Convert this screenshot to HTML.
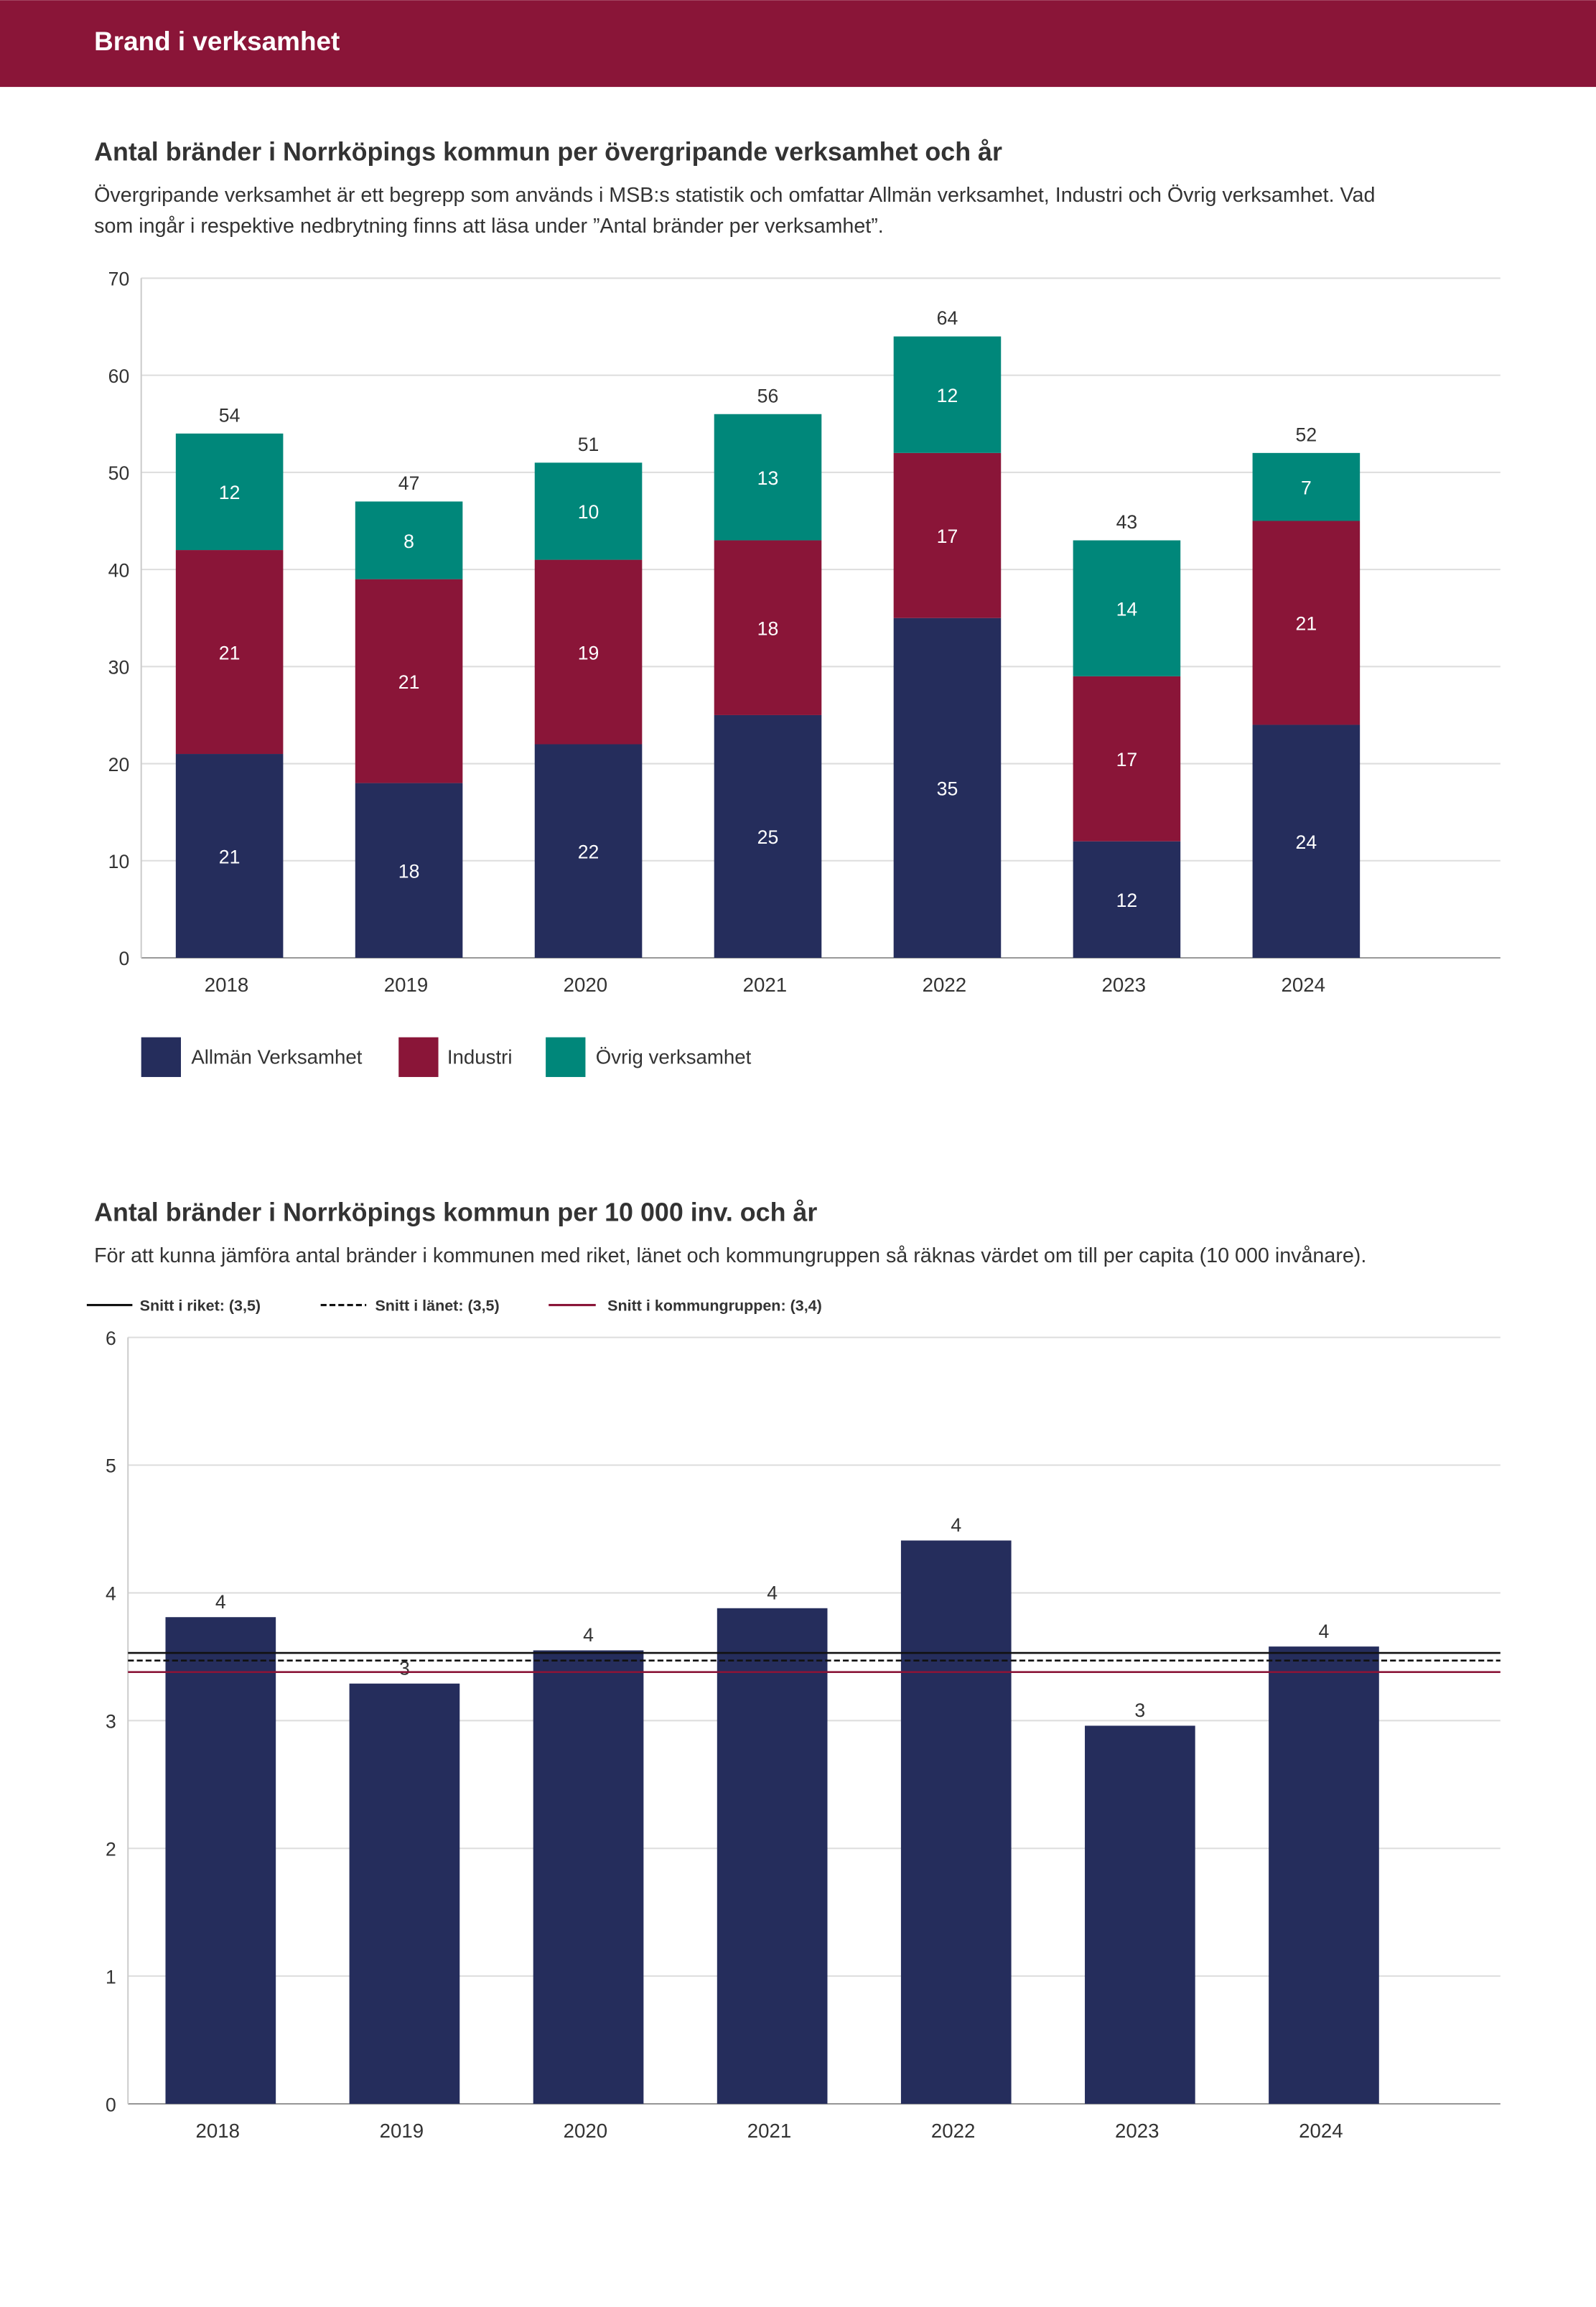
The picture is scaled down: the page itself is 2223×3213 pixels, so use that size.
<!DOCTYPE html>
<html><head><meta charset="utf-8"><style>
html,body{margin:0;padding:0;background:#fff;}
svg{display:block;font-family:"Liberation Sans",sans-serif;}
</style></head><body>
<svg id="s" width="2223" height="3213" viewBox="0 0 1085 1568" xmlns="http://www.w3.org/2000/svg">
<rect x="0" y="0" width="1085" height="59" fill="#8a1538"/>
<text x="64" y="34" fill="#fff" font-size="18" font-weight="bold">Brand i verksamhet</text>
<text x="64" y="109" fill="#333" font-size="17.5" font-weight="bold">Antal bränder i Norrköpings kommun per övergripande verksamhet och år</text>
<text x="64" y="137" fill="#333" font-size="14">Övergripande verksamhet är ett begrepp som används i MSB:s statistik och omfattar Allmän verksamhet, Industri och Övrig verksamhet. Vad</text>
<text x="64" y="158" fill="#333" font-size="14">som ingår i respektive nedbrytning finns att läsa under ”Antal bränder per verksamhet”.</text>
<g id="c1"></g>
<g>
<rect x="96" y="705" width="27" height="27" fill="#252d5c"/>
<text x="130" y="723" font-size="13.5" fill="#333">Allmän Verksamhet</text>
<rect x="271" y="705" width="27" height="27" fill="#8a1538"/>
<text x="304" y="723" font-size="13.5" fill="#333">Industri</text>
<rect x="371" y="705" width="27" height="27" fill="#00877a"/>
<text x="405" y="723" font-size="13.5" fill="#333">Övrig verksamhet</text>
</g>
<text x="64" y="830" fill="#333" font-size="17.5" font-weight="bold">Antal bränder i Norrköpings kommun per 10 000 inv. och år</text>
<text x="64" y="858" fill="#333" font-size="14">För att kunna jämföra antal bränder i kommunen med riket, länet och kommungruppen så räknas värdet om till per capita (10 000 invånare).</text>
<g>
<line x1="59" y1="887" x2="90" y2="887" stroke="#111" stroke-width="1.5"/>
<text x="95" y="891" font-size="10.5" font-weight="bold" fill="#333">Snitt i riket: (3,5)</text>
<line x1="218" y1="887" x2="249" y2="887" stroke="#111" stroke-width="1.5" stroke-dasharray="4,2"/>
<text x="255" y="891" font-size="10.5" font-weight="bold" fill="#333">Snitt i länet: (3,5)</text>
<line x1="373" y1="887" x2="405" y2="887" stroke="#8a1538" stroke-width="1.5"/>
<text x="413" y="891" font-size="10.5" font-weight="bold" fill="#333">Snitt i kommungruppen: (3,4)</text>
</g>
<g id="c2"></g>
</svg>
<script>
const years=["2018","2019","2020","2021","2022","2023","2024"];
const allman=[21,18,22,25,35,12,24];
const industri=[21,21,19,18,17,17,21];
const ovrig=[12,8,10,13,12,14,7];
const ticks1=[0,10,20,30,40,50,60,70];
const perCapita=[3.81,3.29,3.55,3.88,4.41,2.96,3.58];
const perCapitaLabels=["4","3","4","4","4","3","4"];
const ticks2=[0,1,2,3,4,5,6];
const riket=[3.53];
const lanet=[3.47];
const kommungrupp=[3.38];
const NS="http://www.w3.org/2000/svg";
function mk(p,t,a,txt){const e=document.createElementNS(NS,t);for(const k in a)e.setAttribute(k,a[k]);if(txt!==undefined)e.textContent=txt;p.appendChild(e);return e;}
// chart1
(function(){
const g=document.getElementById('c1');
const x0=96,x1=1020,yb=651,yt=189,max=70;
const y=v=>yb-(v/max)*(yb-yt);
const step=122,first=156,bw=73;
const xc=i=>first+i*step;
ticks1.forEach(t=>{
 const l=mk(g,'line',{x1:x0,x2:x1,y1:y(t),y2:y(t),stroke:t===0?'#999':'#ddd','stroke-width':1});
 
 
 const tx=mk(g,'text',{x:88,y:y(t)+5,'text-anchor':'end','font-size':13,fill:'#333'},t);
 
 
});
const ax=mk(g,'line',{x1:x0,x2:x0,y1:yt,y2:yb,stroke:'#ccc'});


const series=[[allman,'#252d5c','allman'],[industri,'#8a1538','industri'],[ovrig,'#00877a','ovrig']];
years.forEach((yr,i)=>{
 let base=0;
 series.forEach(([arr,col,nm])=>{
  const v=arr[i];
  const r=mk(g,'rect',{x:xc(i)-bw/2,y:y(base+v),width:bw,height:y(base)-y(base+v),fill:col});
  
  
  const t=mk(g,'text',{x:xc(i),y:y(base+v/2)+5,'text-anchor':'middle','font-size':13,fill:'#fff'},v);
  
  
  base+=v;
 });
 const tt=mk(g,'text',{x:xc(i),y:y(base)-8,'text-anchor':'middle','font-size':13,fill:'#333'},base);
 
 
 const xl=mk(g,'text',{x:xc(i)-2,y:674,'text-anchor':'middle','font-size':13.5,fill:'#333'},yr);
 
 
});
})();
// chart2
(function(){
const g=document.getElementById('c2');
const x0=87,x1=1020,yb=1430,yt=909,max=6;
const y=v=>yb-(v/max)*(yb-yt);
const step=125,first=150,bw=75;
const xc=i=>first+i*step;
ticks2.forEach(t=>{
 const l=mk(g,'line',{x1:x0,x2:x1,y1:y(t),y2:y(t),stroke:t===0?'#999':'#ddd','stroke-width':1});
 
 
 const tx=mk(g,'text',{x:79,y:y(t)+5,'text-anchor':'end','font-size':13,fill:'#333'},t);
 
 
});
const ax=mk(g,'line',{x1:x0,x2:x0,y1:yt,y2:yb,stroke:'#ccc'});


years.forEach((yr,i)=>{
 const v=perCapita[i];
 const r=mk(g,'rect',{x:xc(i)-bw/2,y:y(v),width:bw,height:yb-y(v),fill:'#252d5c'});
 
 
 const t=mk(g,'text',{x:xc(i),y:y(v)-6,'text-anchor':'middle','font-size':13,fill:'#333'},perCapitaLabels[i]);
 
 
 const xl=mk(g,'text',{x:xc(i)-2,y:1453,'text-anchor':'middle','font-size':13.5,fill:'#333'},yr);
 
 
});
const l1=mk(g,'line',{x1:x0,x2:x1,y1:y(riket[0]),y2:y(riket[0]),stroke:'#111','stroke-width':1.3});


const l2=mk(g,'line',{x1:x0,x2:x1,y1:y(lanet[0]),y2:y(lanet[0]),stroke:'#111','stroke-width':1.3,'stroke-dasharray':'4,2'});


const l3=mk(g,'line',{x1:x0,x2:x1,y1:y(kommungrupp[0]),y2:y(kommungrupp[0]),stroke:'#8a1538','stroke-width':1.3});


})();
</script>
</body></html>
